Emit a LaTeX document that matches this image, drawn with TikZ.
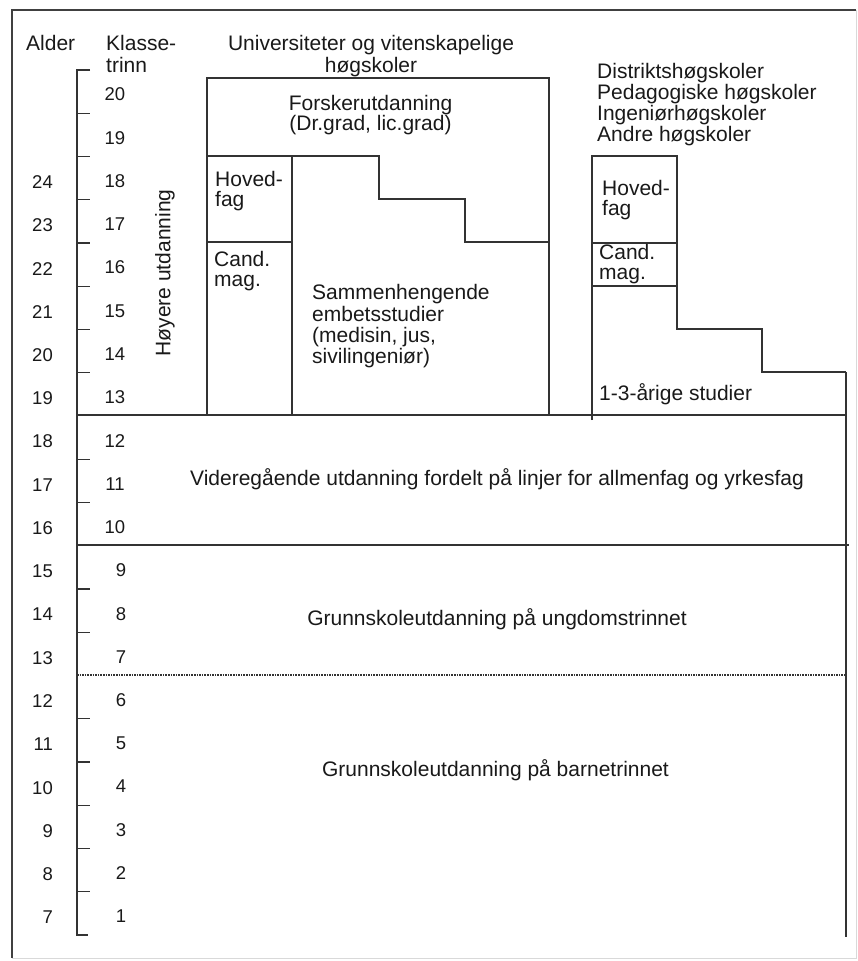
\documentclass[tikz,border=0pt]{standalone}
\usepackage{fontspec}
\setmainfont{Liberation Sans}
\begin{document}
\begin{tikzpicture}[x=1pt,y=-1pt,
  ln/.style={line width=1.4pt, draw=black!80},
  txt/.style={inner sep=0pt, font=\fontsize{21}{21}\selectfont, anchor=base west, text=black!90},
  ctxt/.style={txt, anchor=base},
  num/.style={inner sep=0pt, font=\fontsize{18.5}{19}\selectfont, text=black!90}]
\useasboundingbox (0,0) rectangle (858,961);
% frame
\draw[line width=2.2pt, black!75] (856,10) -- (12,10) -- (12,958);
\draw[line width=1pt, black!15] (856,10) -- (856,958) -- (12,958);
% scale bracket
\draw[ln] (90,70) -- (77,70) -- (77,935) -- (88,935);
\foreach \i in {1,...,19}{
  \ifnum\i=8 \else\ifnum\i=11 \else\ifnum\i=14 \else
    \draw[ln] (77,{70+\i*43.25}) -- (90,{70+\i*43.25});
  \fi\fi\fi
}
% numbers
\foreach \g in {1,...,20}{
  \pgfmathsetmacro{\yc}{70+(20-\g+0.5)*43.25}
  \ifnum\g<10
    \node[num] (g\g) at (121,\yc+3) {\g};
  \else
    \node[num] (g\g) at (115,\yc+3) {\g};
  \fi
}
\foreach \g in {1,...,18}{
  \pgfmathsetmacro{\yc}{70+(20-\g+0.5)*43.25}
  \pgfmathtruncatemacro{\age}{\g+6}
  \node[num, anchor=east] (a\g) at (53,\yc+4) {\age};
}
% main horizontal lines
\draw[ln] (77,415) -- (846,415);
\draw[ln] (77,545) -- (849,545);
\draw[line width=1.6pt, black!80, densely dotted] (77,675) -- (845,675);
\draw[ln] (846,372) -- (846,937);
% university block
\draw[ln] (207,415) -- (207,78) -- (549,78) -- (549,415);
\draw[ln] (207,156) -- (379,156) -- (379,199) -- (465,199) -- (465,242) -- (549,242);
\draw[ln] (292,156) -- (292,415);
\draw[ln] (207,242) -- (292,242);
% right block
\draw[ln] (592,420) -- (592,156) -- (677,156) -- (677,329) -- (762,329) -- (762,372) -- (846,372);
\draw[ln] (592,243) -- (677,243);
\draw[ln] (592,286) -- (677,286);
% headers
\node[txt] (alder) at (26,50) {Alder};
\node[txt] (klasse) at (106,50) {Klasse-};
\node[txt] (trinn) at (106,72.5) {trinn};
\node[ctxt] (univ1) at (371,50) {Universiteter og vitenskapelige};
\node[ctxt] (univ2) at (371,72.5) {høgskoler};
\node[txt] (dist1) at (597,78.3) {Distriktshøgskoler};
\node[txt] (dist2) at (597,99.5) {Pedagogiske høgskoler};
\node[txt] (dist3) at (597,120.7) {Ingeniørhøgskoler};
\node[txt] (dist4) at (597,141.7) {Andre høgskoler};
% university texts
\node[ctxt] (fors1) at (370.5,110.7) {Forskerutdanning};
\node[ctxt] (fors2) at (370.5,130.5) {(Dr.grad, lic.grad)};
\node[txt] (uhov1) at (215,186.7) {Hoved-};
\node[txt] (uhov2) at (215,206.7) {fag};
\node[txt] (ucand1) at (214,266.7) {Cand.};
\node[txt] (ucand2) at (214,286.7) {mag.};
\node[txt] (samm1) at (312,299) {Sammenhengende};
\node[txt] (samm2) at (312,321) {embetsstudier};
\node[txt] (samm3) at (312,342.5) {(medisin, jus,};
\node[txt] (samm4) at (312,363) {sivilingeniør)};
\node[txt, rotate=90, anchor=center] (hoyere) at (165,273) {Høyere utdanning};
% right texts
\node[txt] (rhov1) at (602,195) {Hoved-};
\node[txt] (rhov2) at (602,215) {fag};
\node[txt] (rcand1) at (599,259) {Cand.};
\node[txt] (rcand2) at (599,279) {mag.};
\node[txt] (kort) at (599,400) {1-3-årige studier};
% lower bands
\node[ctxt] (vgs) at (497,485) {Videregående utdanning fordelt på linjer for allmenfag og yrkesfag};
\node[ctxt] (ungd) at (497,625) {Grunnskoleutdanning på ungdomstrinnet};
\node[ctxt] (barn) at (495.5,776.7) {Grunnskoleutdanning på barnetrinnet};
\end{tikzpicture}
\end{document}
